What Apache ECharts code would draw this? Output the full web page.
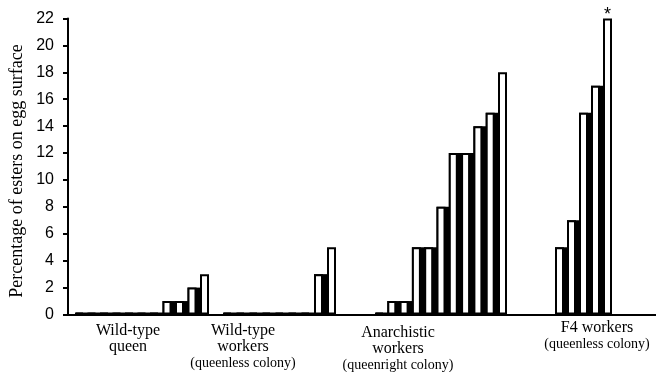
<!DOCTYPE html>
<html>
<head>
<meta charset="utf-8">
<script src="https://cdn.jsdelivr.net/npm/echarts@6/dist/echarts.min.js"></script>
<style>
  html, body { margin: 0; padding: 0; background: #fff; }
  #chart { width: 656px; height: 372px; }
</style>
</head>
<body>
<div id="chart"></div>
<script>
// Percentage of esters measured on each egg, one array per egg origin
const wildQueen        = [0, 0, 0, 0, 0, 0, 0, 1, 1, 2, 3];
const wildWorkers      = [0, 0, 0, 0, 0, 0, 0, 3, 5];
const anarchistWorkers = [0, 1, 1, 5, 5, 8, 12, 12, 14, 15, 18];
const f4Workers        = [5, 7, 15, 17, 22];
const f4Marks          = ['', '', '', '', '*'];

const yMin = 0, yMax = 22, yStep = 2;
const axisTitle = 'Percentage of esters on egg surface';
const groupLabels = [
  ['Wild-type', 'queen'],
  ['Wild-type', 'workers', '(queenless colony)'],
  ['Anarchistic', 'workers', '(queenright colony)'],
  ['F4 workers', '(queenless colony)']
];

// ---- layout ----
const W = 656, H = 372;
const plotTop = 18.5, plotBottom = 57.5, axisLeft = 68;
const groupBoxes = [
  { left: 73.25, width: 137.5 },
  { left: 221,   width: 117 },
  { left: 373.35, width: 135.3 },
  { left: 553.5, width: 60 }
];
// centre x and first-line y of each group caption
const captionPos = [
  { x: 128, y: 331 },
  { x: 243, y: 331 },
  { x: 398, y: 333 },
  { x: 597, y: 328 }
];
const serif = '"Liberation Serif", "Times New Roman", serif';
const sans = '"Liberation Sans", Arial, sans-serif';
const faceWidth = 9, shadeWidth = 13.5;

const groups = [wildQueen, wildWorkers, anarchistWorkers, f4Workers];
const groupMarks = [null, null, null, f4Marks];

const grids = [{ left: axisLeft, right: 0, top: plotTop, bottom: plotBottom }];
const xAxes = [{
  gridIndex: 0, type: 'value', min: 0, max: 1,
  axisLine: { show: true, lineStyle: { color: '#000', width: 2 } },
  axisTick: { show: false }, axisLabel: { show: false }, splitLine: { show: false }
}];
const yAxes = [{
  gridIndex: 0, type: 'value', min: yMin, max: yMax, interval: yStep,
  axisLine: { show: true, lineStyle: { color: '#000', width: 2 } },
  axisTick: { show: true, inside: false, length: 5, lineStyle: { color: '#000', width: 2 } },
  axisLabel: { color: '#000', fontFamily: sans, fontSize: 16, margin: 14 },
  splitLine: { show: false }
}];
const series = [];

groups.forEach((vals, g) => {
  const gi = g + 1;
  grids.push({
    left: groupBoxes[g].left,
    width: groupBoxes[g].width,
    top: plotTop, bottom: plotBottom
  });
  xAxes.push({
    gridIndex: gi, type: 'category', data: vals.map((_, i) => String(i)),
    show: false, boundaryGap: true
  });
  yAxes.push({ gridIndex: gi, type: 'value', min: yMin, max: yMax, show: false });
  const marks = groupMarks[g];
  const last = vals.length - 1;

  // black side shading that sits to the right of each bar face
  series.push({
    type: 'bar',
    xAxisIndex: gi, yAxisIndex: gi,
    barWidth: shadeWidth,
    barGap: '-100%',
    barMinHeight: 2,
    z: 2,
    silent: true,
    itemStyle: { color: '#000' },
    data: vals.map((v, i) => ({
      value: v,
      itemStyle: i === last ? { color: 'rgba(0,0,0,0)' } : undefined
    }))
  });
  // white bar faces with black outline
  series.push({
    type: 'bar',
    xAxisIndex: gi, yAxisIndex: gi,
    barWidth: faceWidth,
    barGap: '-100%',
    barMinHeight: 2,
    z: 3,
    itemStyle: { color: '#fff', borderColor: '#000', borderWidth: 2 },
    label: {
      show: !!marks,
      position: 'top', distance: 0, offset: [0, 6],
      color: '#000', fontFamily: sans, fontSize: 18,
      formatter: p => (marks ? marks[p.dataIndex] : '')
    },
    data: vals
  });
});

const graphics = [{
  type: 'text', x: 17, y: 171, rotation: Math.PI / 2,
  style: {
    text: axisTitle, fill: '#000', font: '18px ' + serif,
    textAlign: 'center', textVerticalAlign: 'middle'
  }
}];
groupLabels.forEach((lines, g) => {
  let y = captionPos[g].y;
  lines.forEach(line => {
    const small = line.startsWith('(');
    graphics.push({
      type: 'text', x: captionPos[g].x, y: y,
      style: {
        text: line, fill: '#000',
        font: (small ? '14px ' : '16px ') + serif,
        textAlign: 'center', textVerticalAlign: 'middle'
      }
    });
    y += small ? 15 : 16;
  });
});

const chart = echarts.init(document.getElementById('chart'), null, { renderer: 'canvas', width: W, height: H });
chart.setOption({
  animation: false,
  backgroundColor: '#fff',
  grid: grids,
  xAxis: xAxes,
  yAxis: yAxes,
  series: series,
  graphic: graphics
});
</script>
</body>
</html>
